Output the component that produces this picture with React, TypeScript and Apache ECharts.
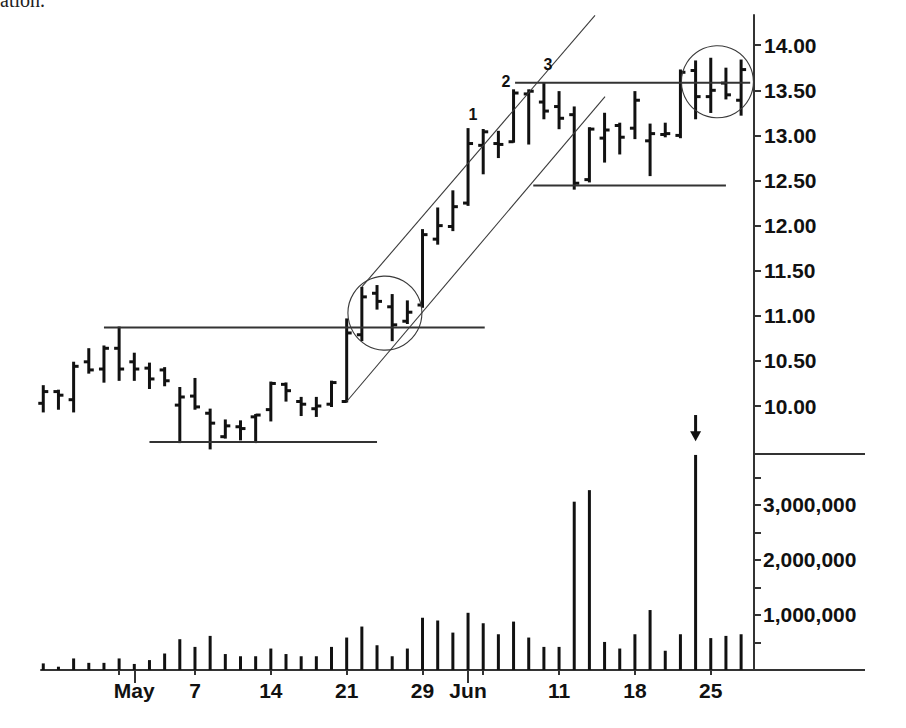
import React, { useEffect, useRef } from "react";
import * as echarts from "echarts";

// ---- data (one entry per trading day) ----
const dates = [
  "Apr 23", "Apr 24", "Apr 25", "Apr 26", "Apr 27", "Apr 30",
  "May 1", "May 2", "May 3", "May 4", "May 7", "May 8", "May 9", "May 10", "May 11",
  "May 14", "May 15", "May 16", "May 17", "May 18", "May 21", "May 22", "May 23", "May 24", "May 25",
  "May 29", "May 30", "May 31", "Jun 1", "Jun 4", "Jun 5", "Jun 6", "Jun 7", "Jun 8",
  "Jun 11", "Jun 12", "Jun 13", "Jun 14", "Jun 15", "Jun 18", "Jun 19", "Jun 20", "Jun 21", "Jun 22",
  "Jun 25", "Jun 26", "Jun 27",
];
const open = [
  10.03, 10.16, 10.07, 10.49, 10.41, 10.64, 10.49, 10.42, 10.40, 10.01,
  10.11, 9.92, 9.66, 9.77, 9.88, 9.96, 10.24, 10.05, 9.97, 10.02,
  10.05, 10.79, 11.25, 11.10, 10.94, 11.12, 11.85, 11.99, 12.25, 12.89,
  12.91, 12.93, 13.46, 13.37, 13.32, 13.23, 12.51, 12.97, 13.11, 13.08,
  12.94, 13.01, 13.00, 13.72, 13.43, 13.58, 13.39,
];
const high = [
  10.22, 10.17, 10.48, 10.63, 10.66, 10.87, 10.58, 10.47, 10.42, 10.20,
  10.30, 9.96, 9.84, 9.83, 9.90, 10.26, 10.25, 10.09, 10.09, 10.27,
  10.96, 11.31, 11.33, 11.23, 11.16, 11.95, 12.19, 12.38, 13.07, 13.06,
  13.04, 13.50, 13.50, 13.58, 13.48, 13.31, 13.08, 13.24, 13.13, 13.48,
  13.12, 13.13, 13.72, 13.82, 13.85, 13.74, 13.83,
];
const low = [
  9.94, 9.97, 9.94, 10.37, 10.27, 10.29, 10.29, 10.20, 10.23, 9.60,
  9.97, 9.53, 9.65, 9.63, 9.60, 9.84, 10.06, 9.90, 9.89, 10.00,
  10.05, 10.73, 11.08, 10.73, 10.92, 11.10, 11.80, 11.95, 12.23, 12.58,
  12.76, 12.93, 12.91, 13.19, 13.08, 12.41, 12.49, 12.71, 12.80, 12.97,
  12.56, 12.99, 12.98, 13.19, 13.26, 13.41, 13.23,
];
const close = [
  10.16, 10.12, 10.44, 10.40, 10.64, 10.41, 10.41, 10.30, 10.28, 10.10,
  9.99, 9.81, 9.78, 9.75, 9.90, 10.25, 10.17, 10.02, 10.00, 10.26,
  10.81, 11.21, 11.16, 10.90, 11.04, 11.90, 12.00, 12.21, 12.91, 13.04,
  12.90, 13.47, 13.49, 13.27, 13.19, 12.47, 13.07, 13.06, 12.98, 13.39,
  13.02, 13.02, 13.70, 13.43, 13.50, 13.45, 13.73,
];
const volume = [
  120000, 60000, 210000, 130000, 130000, 210000, 110000, 180000, 300000, 560000,
  420000, 620000, 290000, 250000, 250000, 390000, 290000, 250000, 250000, 420000,
  590000, 790000, 450000, 250000, 390000, 950000, 900000, 680000, 1040000, 850000,
  650000, 880000, 590000, 420000, 420000, 3060000, 3270000, 510000, 390000, 650000,
  1090000, 350000, 650000, 3910000, 580000, 620000, 650000,
];

// ---- axis ticks / labels ----
const priceTicks = [10, 10.5, 11, 11.5, 12, 12.5, 13, 13.5, 14];
const volumeTicks = [500000, 1000000, 1500000, 2000000, 2500000, 3000000, 3500000];
const volumeLabels = [1000000, 2000000, 3000000];
const weekTickIdx = [5, 10, 15, 20, 25, 29, 34, 39, 44];
const monthTickIdx = [6, 28];
const dateLabelIdx = [6, 10, 15, 20, 25, 28, 34, 39, 44];
const dateLabelText = ["May", "7", "14", "21", "29", "Jun", "11", "18", "25"];

// ---- annotations in data coordinates [bar index, price] ----
const levelLines = [
  [[4, 10.87], [29.1, 10.87]],
  [[7.0, 9.6], [22.0, 9.6]],
  [[31.1, 13.585], [46.6, 13.585]],
  [[32.3, 12.445], [45.0, 12.445]],
];
const channelLines = [
  [[21, 11.32], [36.37, 14.33]],
  [[20, 10.05], [37.03, 13.43]],
];
const circleCenters = [[22.52, 11.03], [44.44, 13.595]];
const waveText = ["1", "2", "3"];
const wavePos = [[28.33, 13.23], [30.5, 13.6], [33.27, 13.79]];
const arrowIdx = 43;
const arrowSpan = [9.9, 9.61];

const FONT = "'Liberation Sans', Arial, Helvetica, sans-serif";
const INK = "#111";
const AXIS = "#333";

export default function App() {
  const ref = useRef<HTMLDivElement>(null);

  useEffect(() => {
    if (!ref.current) return;
    const chart = echarts.init(ref.current, undefined, { renderer: "svg" });
    const xMin = -0.15;
    const xMax = 46.85;
    const labelStyle = {
      color: INK,
      fontFamily: FONT,
      fontWeight: "bold" as const,
      fontSize: 21,
    };
    const ohlc = dates.map((_, i) => [i, open[i], high[i], low[i], close[i]]);
    const vol = dates.map((_, i) => [i, volume[i]]);

    chart.setOption({
      animation: false,
      backgroundColor: "#fff",
      grid: [
        { left: 41, right: 152, top: 15, height: 439, outerBoundsMode: "none", containLabel: false },
        { left: 41, right: 152, top: 454, height: 216, outerBoundsMode: "none", containLabel: false },
      ],
      xAxis: [
        { type: "value", gridIndex: 0, min: xMin, max: xMax, show: false },
        {
          type: "value",
          gridIndex: 1,
          min: xMin,
          max: xMax,
          position: "bottom",
          axisLine: { show: true, onZero: false, lineStyle: { color: AXIS, width: 2 } },
          axisTick: { show: true, customValues: weekTickIdx, length: 5, lineStyle: { color: AXIS, width: 2 } },
          axisLabel: {
            show: true,
            customValues: dateLabelIdx,
            margin: 10,
            ...labelStyle,
            formatter: (v: number) => {
              const k = dateLabelIdx.indexOf(Math.round(v));
              return k >= 0 ? dateLabelText[k] : "";
            },
          },
          splitLine: { show: false },
        },
        {
          type: "value",
          gridIndex: 1,
          min: xMin,
          max: xMax,
          position: "bottom",
          axisLine: { show: false, onZero: false },
          axisTick: { show: true, customValues: monthTickIdx, length: 13, lineStyle: { color: AXIS, width: 2 } },
          axisLabel: { show: false },
          splitLine: { show: false },
        },
      ],
      yAxis: [
        {
          type: "value",
          gridIndex: 0,
          position: "right",
          min: 9.468,
          max: 14.335,
          axisLine: { show: true, onZero: false, lineStyle: { color: AXIS, width: 2 } },
          axisTick: { show: true, customValues: priceTicks, length: 7, lineStyle: { color: AXIS, width: 2 } },
          axisLabel: {
            show: true,
            customValues: priceTicks,
            margin: 10,
            ...labelStyle,
            formatter: (v: number) => v.toFixed(2),
          },
          splitLine: { show: false },
        },
        {
          type: "value",
          gridIndex: 1,
          position: "right",
          min: 0,
          max: 3927000,
          axisLine: { show: true, onZero: false, lineStyle: { color: AXIS, width: 2 } },
          axisTick: { show: true, customValues: volumeTicks, length: 7, lineStyle: { color: AXIS, width: 2 } },
          axisLabel: {
            show: true,
            customValues: volumeLabels,
            margin: 9,
            ...labelStyle,
            formatter: (v: number) => Math.round(v).toLocaleString("en-US"),
          },
          splitLine: { show: false },
        },
      ],
      series: [
        {
          type: "custom",
          name: "Price",
          xAxisIndex: 0,
          yAxisIndex: 0,
          data: ohlc,
          encode: { x: 0, y: [1, 2, 3, 4] },
          renderItem: (params: any, api: any) => {
            const x = api.value(0);
            const o = api.coord([x, api.value(1)]);
            const h = api.coord([x, api.value(2)]);
            const l = api.coord([x, api.value(3)]);
            const c = api.coord([x, api.value(4)]);
            const style = { stroke: INK, lineWidth: 3, fill: null };
            return {
              type: "group",
              children: [
                { type: "line", shape: { x1: h[0], y1: h[1] - 1, x2: l[0], y2: l[1] + 1 }, style },
                { type: "line", shape: { x1: o[0] - 5, y1: o[1], x2: o[0], y2: o[1] }, style },
                { type: "line", shape: { x1: c[0], y1: c[1], x2: c[0] + 5, y2: c[1] }, style },
              ],
            };
          },
        },
        {
          type: "bar",
          name: "Volume",
          xAxisIndex: 1,
          yAxisIndex: 1,
          data: vol,
          barWidth: 3,
          itemStyle: { color: INK },
        },
      ],
    });

    const px = (p: number[]) => chart.convertToPixel({ gridIndex: 0 }, p) as number[];
    const graphics: any[] = [];
    const thin = { stroke: "#3a3a3a", lineWidth: 1.1, fill: null };
    const level = { stroke: "#333", lineWidth: 2, fill: null };

    levelLines.forEach(([a, b]) => {
      const pa = px(a);
      const pb = px(b);
      graphics.push({ type: "line", shape: { x1: pa[0], y1: pa[1], x2: pb[0], y2: pb[1] }, style: level, z: 50 });
    });
    channelLines.forEach(([a, b]) => {
      const pa = px(a);
      const pb = px(b);
      graphics.push({ type: "line", shape: { x1: pa[0], y1: pa[1], x2: pb[0], y2: pb[1] }, style: thin, z: 50 });
    });
    const radii = [37, 36];
    circleCenters.forEach((cc, i) => {
      const p = px(cc);
      graphics.push({ type: "circle", shape: { cx: p[0], cy: p[1], r: radii[i] }, style: { ...thin, fill: null }, z: 50 });
    });
    waveText.forEach((t, i) => {
      const p = px(wavePos[i]);
      graphics.push({
        type: "text",
        x: p[0],
        y: p[1],
        style: { text: t, fill: INK, font: `bold 16px ${FONT}`, align: "center", verticalAlign: "middle" },
        z: 50,
      });
    });
    // arrow above the volume spike
    const aTop = px([arrowIdx, arrowSpan[0]]);
    const aTip = px([arrowIdx, arrowSpan[1]]);
    graphics.push({
      type: "line",
      shape: { x1: aTop[0], y1: aTop[1], x2: aTip[0], y2: aTip[1] - 8 },
      style: { stroke: INK, lineWidth: 3 },
      z: 50,
    });
    graphics.push({
      type: "polygon",
      shape: { points: [[aTip[0] - 5.5, aTip[1] - 10], [aTip[0] + 5.5, aTip[1] - 10], [aTip[0], aTip[1]]] },
      style: { fill: INK },
      z: 50,
    });
    // separator and baseline extensions to the right of the axis
    const corner = px([xMax, 9.468]);
    const base = chart.convertToPixel({ gridIndex: 1 }, [xMax, 0]) as number[];
    graphics.push({
      type: "line",
      shape: { x1: corner[0], y1: corner[1], x2: corner[0] + 111, y2: corner[1] },
      style: { stroke: AXIS, lineWidth: 2 },
      z: 50,
    });
    graphics.push({
      type: "line",
      shape: { x1: base[0], y1: base[1], x2: base[0] + 111, y2: base[1] },
      style: { stroke: AXIS, lineWidth: 2 },
      z: 50,
    });
    // cropped caption fragment at the top edge
    graphics.push({
      type: "text",
      x: 0,
      y: 10,
      style: { text: "ation.", fill: "#222", font: "20px 'Liberation Serif', 'DejaVu Serif', serif", verticalAlign: "bottom" },
      z: 50,
    });

    chart.setOption({ graphic: graphics });

    return () => chart.dispose();
  }, []);

  return (
    <div
      ref={ref}
      style={{ position: "fixed", left: 0, top: 0, width: 906, height: 728, background: "#fff" }}
    />
  );
}
